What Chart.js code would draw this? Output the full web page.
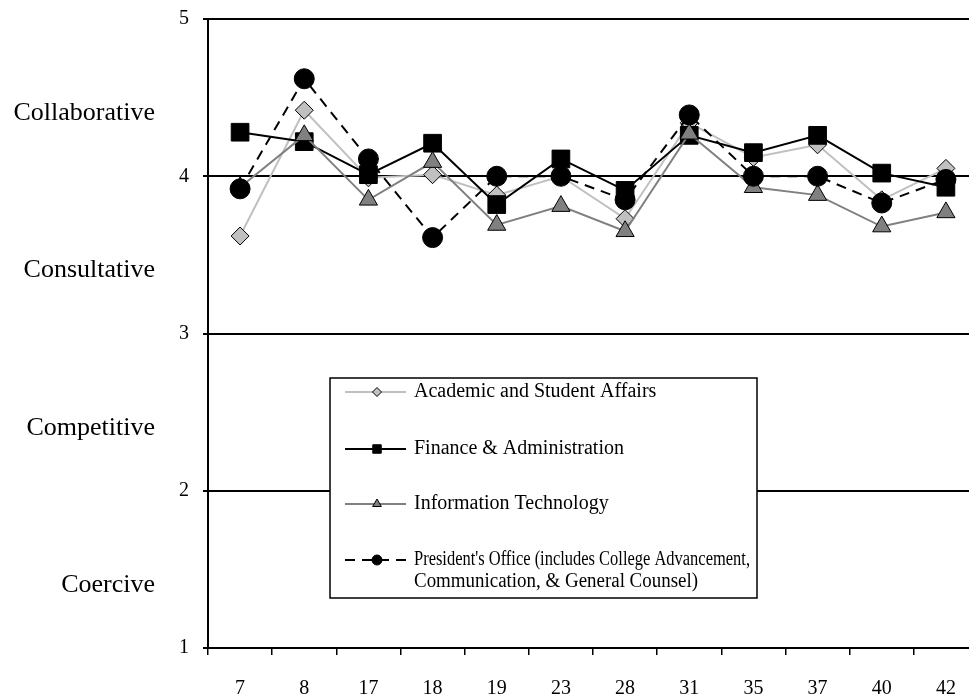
<!DOCTYPE html>
<html>
<head>
<meta charset="utf-8">
<script src="https://cdn.jsdelivr.net/npm/chart.js@4"></script>
<style>
  html, body { margin: 0; padding: 0; background: #fff; overflow: hidden; }
  canvas { display: block; }
</style>
</head>
<body>
<canvas id="chart" width="1000" height="698"></canvas>
<script>
const questions = ['7', '8', '17', '18', '19', '23', '28', '31', '35', '37', '40', '42'];
const academic = [3.62, 4.42, 3.99, 4.01, 3.88, 4.00, 3.73, 4.34, 4.12, 4.20, 3.85, 4.05];
const finance = [4.28, 4.22, 4.01, 4.21, 3.82, 4.11, 3.91, 4.26, 4.15, 4.26, 4.02, 3.93];
const infoTech = [3.93, 4.26, 3.85, 4.09, 3.69, 3.81, 3.65, 4.27, 3.93, 3.88, 3.68, 3.77];
const president = [3.92, 4.62, 4.11, 3.61, 4.00, 4.00, 3.85, 4.39, 4.00, 4.00, 3.83, 3.98];
const styleBands = ['Coercive', 'Competitive', 'Consultative', 'Collaborative'];
const seriesNames = [
  ['Academic and Student Affairs'],
  ['Finance & Administration'],
  ['Information Technology'],
  ['President\'s Office (includes College Advancement,', 'Communication, & General Counsel)']
];

const serif = '"Liberation Serif", "Times New Roman", serif';
const tickFont = { family: serif, size: 20 };

// style names sit in each band between the integer ticks
const bandLabels = {
  id: 'bandLabels',
  afterDraw(chart) {
    const { ctx } = chart;
    const y = chart.scales.y;
    ctx.save();
    ctx.font = '26px ' + serif;
    ctx.fillStyle = '#000';
    ctx.textAlign = 'right';
    ctx.textBaseline = 'middle';
    styleBands.forEach((label, i) => {
      ctx.fillText(label, 155, y.getPixelForValue(i + 1.4));
    });
    ctx.restore();
  }
};

// boxed legend inside the plot, one row per series
const legendBox = {
  id: 'legendBox',
  afterDraw(chart) {
    const { ctx } = chart;
    const left = 330, top = 378, width = 427, height = 220;
    ctx.save();
    ctx.fillStyle = '#fff';
    ctx.fillRect(left, top, width, height);
    ctx.strokeStyle = '#000';
    ctx.lineWidth = 1.5;
    ctx.strokeRect(left, top, width, height);

    const rows = [392, 449, 504, 560];
    const lineWidths = [[400], [400], [400], [336, 284]];
    chart.data.datasets.forEach((ds, i) => {
      const y = rows[i];
      ctx.save();
      ctx.strokeStyle = ds.borderColor;
      ctx.lineWidth = 2;
      ctx.setLineDash(ds.borderDash || []);
      ctx.beginPath();
      ctx.moveTo(345, y);
      ctx.lineTo(406, y);
      ctx.stroke();
      ctx.restore();

      ctx.save();
      ctx.fillStyle = ds.pointBackgroundColor;
      ctx.strokeStyle = ds.pointBorderColor;
      ctx.lineWidth = 1;
      Chart.helpers.drawPoint(ctx, {
        pointStyle: ds.pointStyle,
        radius: ds.legendRadius,
        rotation: 0,
        borderWidth: 1
      }, 377, y);
      ctx.restore();

      ctx.fillStyle = '#000';
      ctx.font = '20px ' + serif;
      ctx.textAlign = 'left';
      ctx.textBaseline = 'middle';
      seriesNames[i].forEach((line, j) => {
        ctx.fillText(line, 414, y + j * 22, lineWidths[i][j]);
      });
    });
    ctx.restore();
  }
};

function series(values, opts) {
  return Object.assign({
    data: values,
    borderWidth: 2,
    pointBorderWidth: 1,
    pointHoverRadius: 0,
    tension: 0,
    fill: false
  }, opts);
}

new Chart(document.getElementById('chart'), {
  type: 'line',
  data: {
    labels: questions,
    datasets: [
      series(academic, {
        label: seriesNames[0][0],
        borderColor: '#c0c0c0',
        pointStyle: 'rectRot',
        pointRadius: 9,
        legendRadius: 4.5,
        pointBackgroundColor: '#c0c0c0',
        pointBorderColor: '#000',
        order: 4
      }),
      series(finance, {
        label: seriesNames[1][0],
        borderColor: '#000',
        pointStyle: 'rect',
        pointRadius: 12.5,
        legendRadius: 6,
        pointBackgroundColor: '#000',
        pointBorderColor: '#000',
        order: 3
      }),
      series(infoTech, {
        label: seriesNames[2][0],
        borderColor: '#808080',
        pointStyle: 'triangle',
        pointRadius: 10.5,
        legendRadius: 5,
        pointBackgroundColor: '#808080',
        pointBorderColor: '#000',
        order: 2
      }),
      series(president, {
        label: seriesNames[3].join(' '),
        borderColor: '#000',
        borderDash: [10, 7],
        pointStyle: 'circle',
        pointRadius: 10,
        legendRadius: 5,
        pointBackgroundColor: '#000',
        pointBorderColor: '#000',
        order: 1
      })
    ]
  },
  options: {
    responsive: false,
    animation: false,
    layout: { padding: { top: 18, right: 22, left: 0, bottom: 0 } },
    plugins: {
      legend: { display: false },
      tooltip: { enabled: false }
    },
    scales: {
      x: {
        type: 'category',
        offset: true,
        grid: {
          offset: true,
          drawOnChartArea: false,
          color: '#000',
          lineWidth: 1.5,
          tickLength: 7
        },
        border: { color: '#000', width: 2 },
        ticks: { color: '#000', font: tickFont, padding: 22, maxRotation: 0, autoSkip: false },
        afterFit: (scale) => { scale.height = 50; }
      },
      y: {
        min: 1,
        max: 5,
        ticks: {
          stepSize: 1,
          color: '#000',
          font: { family: serif, size: 20, lineHeight: 0.5 },
          padding: 14
        },
        grid: { color: '#000', lineWidth: 2, tickLength: 5 },
        border: { color: '#000', width: 2 },
        afterFit: (scale) => { scale.width = 208; }
      }
    }
  },
  plugins: [bandLabels, legendBox]
});
</script>
</body>
</html>
